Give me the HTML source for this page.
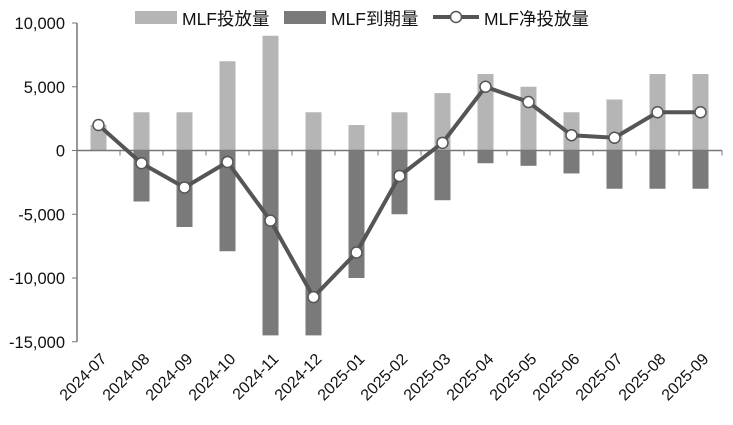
<!DOCTYPE html>
<html><head><meta charset="utf-8"><style>
body{margin:0;background:#fff;}
text{font-family:"Liberation Sans","Noto Sans CJK SC",sans-serif;fill:#111;}
</style></head><body>
<svg width="733" height="420" xmlns="http://www.w3.org/2000/svg">
<g id="c"></g>
</svg>
<script>
const inj=[2000,3000,3000,7000,9000,3000,2000,3000,4500,6000,5000,3000,4000,6000,6000];
const mat=[0,-4000,-6000,-7900,-14500,-14500,-10000,-5000,-3900,-1000,-1200,-1800,-3000,-3000,-3000];
const net=[2000,-1000,-2900,-900,-5500,-11500,-8000,-2000,600,5000,3800,1200,1000,3000,3000];
const lab=["2024-07","2024-08","2024-09","2024-10","2024-11","2024-12","2025-01","2025-02","2025-03","2025-04","2025-05","2025-06","2025-07","2025-08","2025-09"];
const y=v=>150.5-v*0.01275, x0=77, cw=43;
let s='';
for(let i=0;i<15;i++){const cx=x0+cw*(i+0.5);
 s+=`<rect x="${cx-8}" y="${y(inj[i])}" width="16" height="${y(0)-y(inj[i])}" fill="#b5b5b5"/>`;
 if(mat[i]<0)s+=`<rect x="${cx-8}" y="${y(0)}" width="16" height="${y(mat[i])-y(0)}" fill="#7a7a7a"/>`;
 s+=`<text transform="translate(${cx+9},360) rotate(-45)" text-anchor="end" font-size="16">${lab[i]}</text>`;
}
s+=`<line x1="${x0}" y1="${y(0)}" x2="722" y2="${y(0)}" stroke="#777" stroke-width="1.5"/>`;
for(let i=0;i<=15;i++){const tx=x0+cw*i;s+=`<line x1="${tx}" y1="${y(0)}" x2="${tx}" y2="${y(0)+5}" stroke="#777"/>`;}
s+=`<line x1="${x0}" y1="${y(10000)}" x2="${x0}" y2="${y(-15000)}" stroke="#777" stroke-width="1.5"/>`;
for(let v=-15000;v<=10000;v+=5000){s+=`<line x1="${x0-5}" y1="${y(v)}" x2="${x0}" y2="${y(v)}" stroke="#777"/>`;
 s+=`<text x="${x0-12}" y="${y(v)+6}" text-anchor="end" font-size="16.5">${v.toLocaleString('en-US')}</text>`;}
s+=`<polyline fill="none" stroke="#555" stroke-width="4" stroke-linejoin="round" points="${net.map((v,i)=>(x0+cw*(i+0.5))+','+y(v)).join(' ')}"/>`;
net.forEach((v,i)=>{s+=`<circle cx="${x0+cw*(i+0.5)}" cy="${y(v)}" r="5.5" fill="#fff" stroke="#555" stroke-width="1.5"/>`;});
s+=`<rect x="135" y="11" width="42" height="13" fill="#b5b5b5"/><text x="182" y="25" font-size="17.5">MLF投放量</text>`;
s+=`<rect x="284" y="11" width="42" height="13" fill="#7a7a7a"/><text x="331" y="25" font-size="17.5">MLF到期量</text>`;
s+=`<line x1="433" y1="17" x2="479" y2="17" stroke="#555" stroke-width="4"/><circle cx="456" cy="17" r="5.5" fill="#fff" stroke="#555" stroke-width="1.5"/><text x="484" y="25" font-size="17.5">MLF净投放量</text>`;
document.getElementById('c').innerHTML=s;
</script>
</body></html>
